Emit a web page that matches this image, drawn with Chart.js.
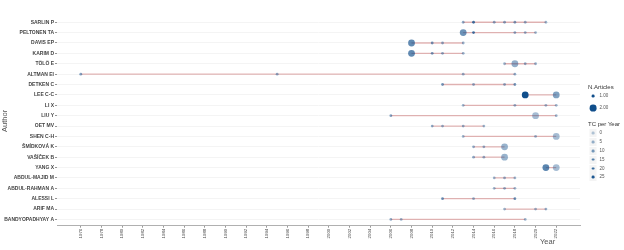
<!DOCTYPE html>
<html>
<head>
<meta charset="utf-8">
<script src="https://cdn.jsdelivr.net/npm/chart.js@4.4.1/dist/chart.umd.min.js"></script>
<style>
  body { margin: 0; background: #fff; font-family: "Liberation Sans", Arial, sans-serif; }
  #wrap { position: relative; width: 624px; height: 250px; }
  .lg { position: absolute; white-space: nowrap; line-height: 1; transform: translateY(-50%); }
  .dot { position: absolute; border-radius: 50%; transform: translate(-50%, -50%); }
  .key { position: absolute; background: #f4f4f4; transform: translate(-50%, -50%); width: 7px; height: 8px; }
</style>
</head>
<body>
<div id="wrap">
  <canvas id="chart"></canvas>
  <div id="legend"></div>
  <div class="lg" id="xtitle" style="left:540px; top:242px; font-size:7.5px; color:#555;">Year</div>
</div>
<script>
const AUTHORS = ['SARLIN P', 'PELTONEN TA', 'DAVIS EP', 'KARIM D', 'TÖLÖ E', 'ALTMAN EI', 'DETKEN C',
  'LEE C-C', 'LI X', 'LIU Y', 'OET MV', 'SHEN C-H', 'ŠMÍDKOVÁ K', 'VAŠÍČEK B', 'YANG X',
  'ABDUL-MAJID M', 'ABDUL-RAHMAN A', 'ALESSI L', 'ARIF MA', 'BANDYOPADHYAY A'];

// publication years per author
const YEARS = [
  [2013, 2014, 2016, 2017, 2018, 2019, 2021],
  [2013, 2014, 2018, 2019, 2020],
  [2008, 2010, 2011, 2013],
  [2008, 2010, 2011, 2013],
  [2017, 2018, 2019, 2020],
  [1976, 1995, 2013, 2018],
  [2011, 2014, 2017, 2018],
  [2019, 2022],
  [2013, 2018, 2021, 2022],
  [2006, 2020, 2022],
  [2010, 2011, 2013, 2015],
  [2013, 2020, 2022],
  [2014, 2015, 2017],
  [2014, 2015, 2017],
  [2021, 2022],
  [2016, 2017, 2018],
  [2016, 2017, 2018],
  [2011, 2014, 2018],
  [2017, 2020, 2021],
  [2006, 2007, 2019]
];

// number of articles in that year
const ARTICLES = [
  [1, 1, 1, 1, 1, 1, 1],
  [2, 1, 1, 1, 1],
  [2, 1, 1, 1],
  [2, 1, 1, 1],
  [1, 2, 1, 1],
  [1, 1, 1, 1],
  [1, 1, 1, 1],
  [2, 2],
  [1, 1, 1, 1],
  [1, 2, 1],
  [1, 1, 1, 1],
  [1, 1, 2],
  [1, 1, 2],
  [1, 1, 2],
  [2, 2],
  [1, 1, 1],
  [1, 1, 1],
  [1, 1, 1],
  [1, 1, 1],
  [1, 1, 1]
];

// total citations per year
const TC_PER_YEAR = [
  [6, 18, 6, 6, 8, 5, 4],
  [12, 18, 6, 5, 4],
  [14, 10, 6, 5],
  [14, 10, 6, 5],
  [4, 6, 5, 5],
  [8, 6, 5, 6],
  [10, 5, 5, 10],
  [27, 9],
  [4, 5, 4, 4],
  [8, 3, 4],
  [6, 5, 5, 4],
  [4, 4, 3],
  [6, 5, 5],
  [6, 5, 5],
  [15, 3],
  [4, 5, 4],
  [4, 5, 4],
  [12, 5, 12],
  [4, 4, 5],
  [6, 4, 4]
];

const X_TICKS = [1976, 1978, 1980, 1982, 1984, 1986, 1988, 1990, 1992, 1994, 1996, 1998,
  2000, 2002, 2004, 2006, 2008, 2010, 2012, 2014, 2016, 2018, 2020, 2022];
const N_BREAKS = [1, 2];
const TC_BREAKS = [0, 5, 10, 15, 20, 25];
const TC_MAX = 27;

function tcColor(tc) {
  const a = 0.3 + 0.7 * Math.min(tc, TC_MAX) / TC_MAX;
  return 'rgba(16,78,139,' + a.toFixed(3) + ')';
}
function nRadius(n) {
  return n > 1 ? 3.4 : 1.4;
}

const pointData = [];
AUTHORS.forEach((name, i) => {
  YEARS[i].forEach((yr, j) => {
    pointData.push({ x: yr, y: i, n: ARTICLES[i][j], tc: TC_PER_YEAR[i][j] });
  });
});

const lineSets = AUTHORS.map((name, i) => ({
  type: 'line',
  label: name,
  data: YEARS[i].map((yr) => ({ x: yr, y: i })),
  borderColor: 'rgba(178,34,34,0.32)',
  borderWidth: 1.3,
  pointRadius: 0,
  order: 2
}));

const ctx = document.getElementById('chart').getContext('2d');
new Chart(ctx, {
  type: 'scatter',
  data: {
    datasets: [
      {
        label: 'authors',
        data: pointData,
        order: 1,
        pointRadius: (c) => (c.raw ? nRadius(c.raw.n) : 1.4),
        pointHoverRadius: (c) => (c.raw ? nRadius(c.raw.n) : 1.4),
        pointBackgroundColor: (c) => (c.raw ? tcColor(c.raw.tc) : tcColor(10)),
        pointBorderWidth: 0
      },
      ...lineSets
    ]
  },
  options: {
    responsive: true,
    maintainAspectRatio: false,
    animation: false,
    events: [],
    layout: { padding: { top: 16, right: 44, left: 0, bottom: 0 } },
    plugins: { legend: { display: false }, tooltip: { enabled: false } },
    scales: {
      x: {
        type: 'linear',
        min: 1973.7,
        max: 2024.3,
        afterBuildTicks: (s) => { s.ticks = X_TICKS.map((v) => ({ value: v })); },
        afterFit: (s) => { s.height = 24.3; },
        ticks: {
          autoSkip: false,
          maxRotation: 90,
          minRotation: 90,
          padding: 1,
          color: '#4d4d4d',
          font: { size: 4.4, family: 'Liberation Sans' },
          callback: (v) => String(v)
        },
        grid: { drawOnChartArea: false, tickLength: 2, tickColor: '#999' },
        border: { color: '#b0b0b0', width: 1 }
      },
      y: {
        type: 'linear',
        reverse: true,
        min: -0.6,
        max: 19.6,
        afterBuildTicks: (s) => { s.ticks = AUTHORS.map((a, i) => ({ value: i })); },
        afterFit: (s) => { s.width = 57; },
        ticks: {
          autoSkip: false,
          padding: 1,
          color: '#444',
          font: { size: 5, weight: 'bold', family: 'Liberation Sans' },
          callback: (v) => AUTHORS[v] ?? ''
        },
        grid: { color: '#f1f1f1', lineWidth: 0.8, tickLength: 2, tickColor: '#777' },
        border: { display: false },
        title: {
          display: true,
          text: 'Author',
          color: '#555',
          padding: { top: 0, bottom: 0 },
          font: { size: 7.5, family: 'Liberation Sans' }
        }
      }
    }
  }
});

// legend for size (N.Articles) and alpha (TC per Year)
const legend = document.getElementById('legend');
function addText(text, left, cy, size, color) {
  const d = document.createElement('div');
  d.className = 'lg';
  d.textContent = text;
  d.style.left = left + 'px';
  d.style.top = cy + 'px';
  d.style.fontSize = size + 'px';
  d.style.color = color;
  legend.appendChild(d);
}
function addDot(cx, cy, r, color, withKey) {
  if (withKey) {
    const k = document.createElement('div');
    k.className = 'key';
    k.style.left = cx + 'px';
    k.style.top = cy + 'px';
    legend.appendChild(k);
  }
  const d = document.createElement('div');
  d.className = 'dot';
  d.style.left = cx + 'px';
  d.style.top = cy + 'px';
  d.style.width = (2 * r) + 'px';
  d.style.height = (2 * r) + 'px';
  d.style.background = color;
  legend.appendChild(d);
}

addText('N.Articles', 588, 86.5, 6, '#333');
N_BREAKS.forEach((n, i) => {
  const cy = 96 + i * 12;
  addDot(593, cy, nRadius(n), 'rgb(16,78,139)', false);
  addText(n.toFixed(2), 599.5, cy, 4.5, '#555');
});
addText('TC per Year', 588, 124.3, 6, '#333');
TC_BREAKS.forEach((tc, i) => {
  const cy = 133.3 + i * 8.8;
  addDot(593, cy, 1.4, tcColor(tc), true);
  addText(String(tc), 599.5, cy, 4.5, '#555');
});
</script>
</body>
</html>
